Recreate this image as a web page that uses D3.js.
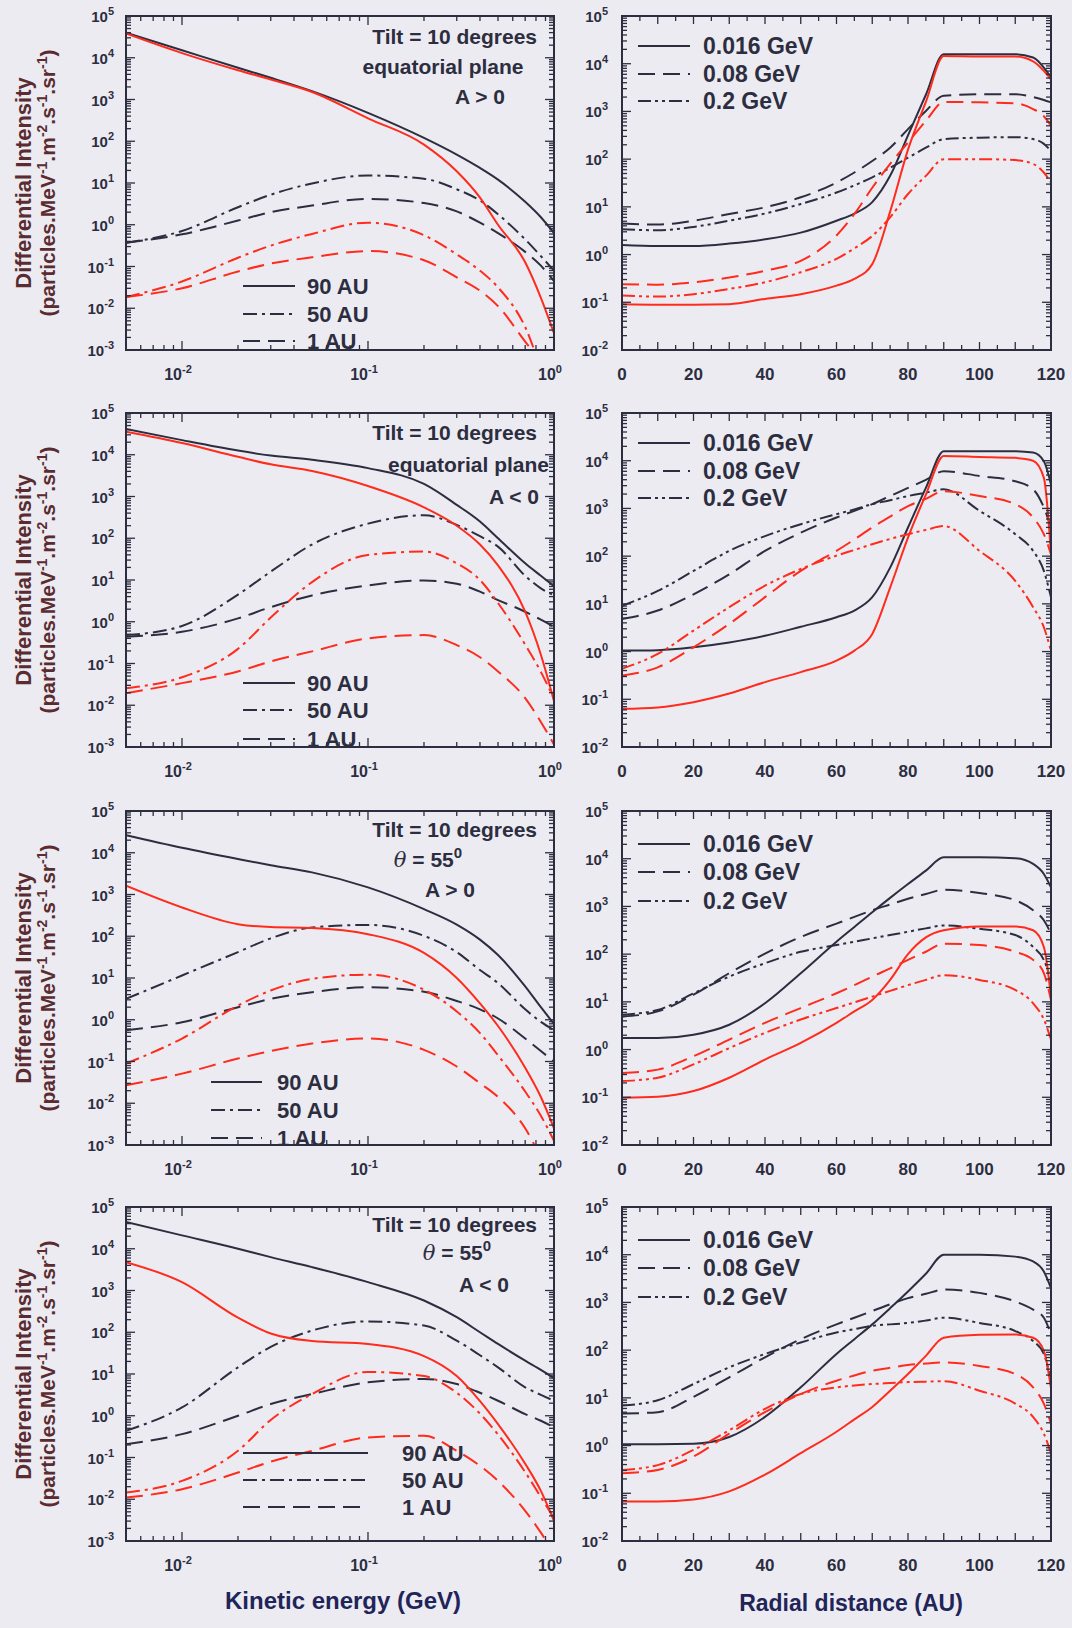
<!DOCTYPE html>
<html>
<head>
<meta charset="utf-8">
<script src="https://cdn.jsdelivr.net/npm/d3@7"></script>
<style>
  body { margin: 0; background: #ecebf2; }
  svg text { font-family: "Liberation Sans", Arial, sans-serif; font-weight: bold; }
</style>
</head>
<body>
<svg id="fig" width="1072" height="1628"></svg>
<script>
// grids the curves were read on
const energyGeV = [0.005, 0.01, 0.02, 0.03, 0.05, 0.1, 0.2, 0.3, 0.4, 0.5, 0.7, 0.85, 1.0];
const radiusAU = [0, 10, 20, 30, 40, 50, 60, 65, 70, 75, 80, 85, 90, 100, 110, 115, 118, 120];

// --- spectra, log10 of intensity (left column) ---
// row 1: equatorial plane, A > 0
const eqPosBlack90 = [4.6, 4.18, 3.76, 3.52, 3.2, 2.68, 2.08, 1.68, 1.36, 1.08, 0.55, 0.18, -0.2];
const eqPosBlack50 = [-0.43, -0.15, 0.42, 0.72, 0.99, 1.18, 1.1, 0.85, 0.58, 0.25, -0.35, -0.75, -1.1];
const eqPosBlack1 = [-0.43, -0.23, 0.10, 0.3, 0.46, 0.62, 0.52, 0.32, 0.05, -0.2, -0.65, -0.98, -1.35];
const eqPosRed90 = [4.58, 4.11, 3.70, 3.48, 3.18, 2.55, 1.92, 1.28, 0.65, 0.0, -0.9, -1.75, -2.6];
const eqPosRed50 = [-1.73, -1.36, -0.79, -0.5, -0.22, 0.05, -0.25, -0.71, -1.1, -1.5, -2.45, -3.4, -4.0];
const eqPosRed1 = [-1.73, -1.52, -1.12, -0.93, -0.78, -0.63, -0.85, -1.26, -1.58, -1.95, -2.8, -3.3, -3.8];
// row 2: equatorial plane, A < 0
const eqNegBlack90 = [4.62, 4.35, 4.1, 3.98, 3.88, 3.68, 3.3, 2.8, 2.4, 2.0, 1.4, 1.1, 0.85];
const eqNegBlack50 = [-0.32, -0.1, 0.65, 1.2, 1.85, 2.35, 2.55, 2.32, 2.05, 1.8, 1.1, 0.8, 0.63];
const eqNegBlack1 = [-0.36, -0.24, 0.08, 0.35, 0.63, 0.87, 0.99, 0.91, 0.72, 0.52, 0.24, 0.05, -0.12];
const eqNegRed90 = [4.55, 4.28, 3.95, 3.77, 3.61, 3.25, 2.74, 2.30, 1.85, 1.35, 0.24, -0.79, -1.9];
const eqNegRed50 = [-1.59, -1.33, -0.65, 0.1, 0.95, 1.6, 1.68, 1.4, 1.0, 0.45, -0.55, -1.2, -1.85];
const eqNegRed1 = [-1.71, -1.47, -1.19, -0.95, -0.71, -0.40, -0.32, -0.56, -0.85, -1.19, -1.83, -2.4, -2.94];
// row 3: theta = 55, A > 0
const latPosBlack90 = [4.42, 4.12, 3.85, 3.7, 3.53, 3.17, 2.65, 2.28, 1.92, 1.55, 0.8, 0.3, -0.1];
const latPosBlack50 = [0.5, 1.06, 1.62, 1.95, 2.21, 2.27, 2.01, 1.62, 1.19, 0.88, 0.25, -0.05, -0.25];
const latPosBlack1 = [-0.25, -0.06, 0.30, 0.5, 0.66, 0.78, 0.67, 0.45, 0.25, 0.03, -0.45, -0.75, -1.0];
const latPosRed90 = [3.21, 2.69, 2.29, 2.22, 2.2, 2.05, 1.6, 1.0, 0.39, -0.15, -1.15, -1.85, -2.6];
const latPosRed50 = [-1.05, -0.45, 0.34, 0.7, 0.98, 1.08, 0.72, 0.2, -0.32, -0.85, -1.72, -2.3, -2.9];
const latPosRed1 = [-1.57, -1.29, -0.93, -0.75, -0.57, -0.45, -0.72, -1.12, -1.52, -1.85, -2.6, -3.3, -3.9];
// row 4: theta = 55, A < 0
const latNegBlack90 = [4.64, 4.32, 4.0, 3.8, 3.56, 3.2, 2.76, 2.36, 2.0, 1.72, 1.32, 1.1, 0.9];
const latNegBlack50 = [-0.36, 0.2, 1.16, 1.65, 2.04, 2.26, 2.16, 1.8, 1.45, 1.16, 0.68, 0.5, 0.36];
const latNegBlack1 = [-0.68, -0.44, 0.0, 0.28, 0.52, 0.8, 0.88, 0.76, 0.55, 0.36, 0.04, -0.12, -0.28];
const latNegRed90 = [3.68, 3.2, 2.35, 1.97, 1.79, 1.72, 1.43, 0.95, 0.35, -0.2, -1.15, -1.8, -2.52];
const latNegRed50 = [-1.84, -1.56, -0.84, -0.1, 0.52, 1.05, 0.95, 0.55, 0.05, -0.45, -1.35, -1.95, -2.45];
const latNegRed1 = [-1.96, -1.76, -1.36, -1.1, -0.84, -0.52, -0.48, -0.84, -1.2, -1.56, -2.28, -2.8, -3.3];

// --- radial profiles, log10 of intensity (right column) ---
const eqPosBlack016 = [0.2, 0.18, 0.18, 0.23, 0.32, 0.46, 0.71, 0.86, 1.1, 1.65, 2.5, 3.35, 4.2, 4.2, 4.2, 4.13, 3.92, 3.71];
const eqPosBlack008 = [0.65, 0.63, 0.71, 0.85, 0.99, 1.2, 1.51, 1.72, 1.96, 2.24, 2.63, 3.01, 3.33, 3.36, 3.36, 3.3, 3.24, 3.19];
const eqPosBlack02 = [0.53, 0.51, 0.58, 0.71, 0.86, 1.06, 1.3, 1.45, 1.62, 1.82, 2.03, 2.24, 2.42, 2.45, 2.46, 2.42, 2.32, 2.17];
const eqPosRed016 = [-1.04, -1.05, -1.05, -1.04, -0.93, -0.83, -0.65, -0.51, -0.2, 0.9, 2.2, 3.2, 4.16, 4.15, 4.15, 4.05, 3.85, 3.67];
const eqPosRed008 = [-0.62, -0.63, -0.58, -0.48, -0.34, -0.13, 0.4, 0.85, 1.4, 1.9, 2.35, 2.8, 3.2, 3.19, 3.17, 3.05, 2.9, 2.70];
const eqPosRed02 = [-0.86, -0.88, -0.83, -0.72, -0.58, -0.37, -0.09, 0.13, 0.39, 0.78, 1.27, 1.65, 2.0, 2.0, 1.98, 1.9, 1.72, 1.51];

const eqNegBlack016 = [0.02, 0.03, 0.09, 0.19, 0.33, 0.52, 0.72, 0.86, 1.14, 1.76, 2.60, 3.43, 4.2, 4.2, 4.2, 4.17, 3.99, 3.5];
const eqNegBlack008 = [0.68, 0.86, 1.2, 1.62, 2.11, 2.49, 2.81, 2.95, 3.09, 3.26, 3.43, 3.6, 3.78, 3.68, 3.57, 3.4, 3.02, 2.6];
const eqNegBlack02 = [0.96, 1.27, 1.69, 2.11, 2.42, 2.67, 2.88, 2.98, 3.09, 3.17, 3.26, 3.33, 3.4, 2.95, 2.46, 2.11, 1.69, 1.14];
const eqNegRed016 = [-1.2, -1.17, -1.06, -0.88, -0.64, -0.43, -0.19, 0.02, 0.37, 1.34, 2.39, 3.29, 4.1, 4.08, 4.06, 4.0, 3.64, 2.04];
const eqNegRed008 = [-0.5, -0.33, 0.09, 0.58, 1.14, 1.69, 2.11, 2.35, 2.6, 2.83, 3.05, 3.2, 3.36, 3.26, 3.09, 2.81, 2.46, 2.04];
const eqNegRed02 = [-0.36, -0.05, 0.44, 0.93, 1.38, 1.73, 2.01, 2.13, 2.25, 2.36, 2.46, 2.55, 2.63, 2.11, 1.48, 0.93, 0.51, 0.02];

const latPosBlack016 = [0.24, 0.24, 0.31, 0.52, 0.97, 1.6, 2.26, 2.57, 2.88, 3.18, 3.47, 3.75, 4.03, 4.03, 4.01, 3.89, 3.68, 3.4];
const latPosBlack008 = [0.69, 0.8, 1.15, 1.6, 2.01, 2.36, 2.64, 2.78, 2.92, 3.04, 3.16, 3.26, 3.35, 3.28, 3.13, 2.92, 2.71, 2.43];
const latPosBlack02 = [0.73, 0.83, 1.18, 1.53, 1.81, 2.05, 2.19, 2.26, 2.33, 2.4, 2.47, 2.54, 2.6, 2.53, 2.4, 2.15, 1.88, 1.46];
const latPosRed016 = [-1.01, -0.99, -0.87, -0.59, -0.21, 0.14, 0.56, 0.8, 1.04, 1.46, 2.0, 2.35, 2.5, 2.58, 2.58, 2.5, 2.15, 1.1];
const latPosRed008 = [-0.49, -0.42, -0.14, 0.21, 0.56, 0.87, 1.18, 1.35, 1.53, 1.7, 1.88, 2.05, 2.22, 2.19, 2.05, 1.88, 1.6, 1.04];
const latPosRed02 = [-0.66, -0.59, -0.31, 0.03, 0.35, 0.63, 0.87, 0.99, 1.11, 1.23, 1.35, 1.46, 1.56, 1.46, 1.25, 0.97, 0.63, 0.21];

const latNegBlack016 = [0.03, 0.03, 0.04, 0.18, 0.6, 1.22, 1.92, 2.23, 2.54, 2.88, 3.23, 3.6, 4.0, 4.0, 3.96, 3.86, 3.65, 3.3];
const latNegBlack008 = [0.67, 0.7, 1.02, 1.43, 1.85, 2.23, 2.54, 2.68, 2.82, 2.96, 3.09, 3.18, 3.27, 3.2, 3.02, 2.85, 2.68, 2.33];
const latNegBlack02 = [0.84, 0.95, 1.29, 1.64, 1.92, 2.16, 2.37, 2.44, 2.51, 2.54, 2.57, 2.62, 2.68, 2.57, 2.4, 2.19, 1.92, 1.36];
const latNegRed016 = [-1.17, -1.17, -1.13, -0.96, -0.61, -0.16, 0.29, 0.55, 0.81, 1.15, 1.5, 1.88, 2.26, 2.32, 2.33, 2.26, 1.99, 1.2];
const latNegRed008 = [-0.58, -0.51, -0.23, 0.25, 0.7, 1.08, 1.36, 1.47, 1.57, 1.63, 1.69, 1.72, 1.74, 1.67, 1.5, 1.22, 0.88, 0.46];
const latNegRed02 = [-0.51, -0.41, -0.09, 0.32, 0.77, 1.08, 1.22, 1.26, 1.29, 1.31, 1.33, 1.34, 1.35, 1.15, 0.88, 0.6, 0.25, -0.16];

// labels
const spectrumLegend = ['90 AU', '50 AU', '1 AU'];
const profileLegend = ['0.016 GeV', '0.08 GeV', '0.2 GeV'];
const energyTickExp = [-2, -1, 0];
const radiusTicks = [0, 20, 40, 60, 80, 100, 120];

// ---------------------------------------------------------------
const ink = '#2c2e40';
const red = '#ff2b1c';
const dashes = { solid: null, dashDot: '14,5,3,5', longDash: '17,8', dashDotDot: '13,4,3,4,3,4' };

const svg = d3.select('#fig');
const rowTop = [16, 413, 811, 1207];
const panelH = 334;
const leftX = [126, 554];
const rightX = [622, 1051];

const rows = [
  {
    spectra: [eqPosBlack90, eqPosBlack50, eqPosBlack1, eqPosRed90, eqPosRed50, eqPosRed1],
    profiles: [eqPosBlack016, eqPosBlack008, eqPosBlack02, eqPosRed016, eqPosRed008, eqPosRed02],
    note: [['Tilt = 10 degrees', 'end', 537, 28], ['equatorial plane', 'middle', 443, 58], ['A > 0', 'middle', 480, 88]],
    legL: { x1: 243, x2: 295, tx: 307, ys: [270, 298, 325] },
    legR: [30, 58, 85]
  },
  {
    spectra: [eqNegBlack90, eqNegBlack50, eqNegBlack1, eqNegRed90, eqNegRed50, eqNegRed1],
    profiles: [eqNegBlack016, eqNegBlack008, eqNegBlack02, eqNegRed016, eqNegRed008, eqNegRed02],
    note: [['Tilt = 10 degrees', 'end', 537, 27], ['equatorial plane', 'end', 549, 59], ['A < 0', 'end', 539, 91]],
    legL: { x1: 243, x2: 295, tx: 307, ys: [270, 297, 326] },
    legR: [30, 58, 85]
  },
  {
    spectra: [latPosBlack90, latPosBlack50, latPosBlack1, latPosRed90, latPosRed50, latPosRed1],
    profiles: [latPosBlack016, latPosBlack008, latPosBlack02, latPosRed016, latPosRed008, latPosRed02],
    note: [['Tilt = 10 degrees', 'end', 537, 26], ['theta', 'middle', 428, 56], ['A > 0', 'middle', 450, 86]],
    legL: { x1: 211, x2: 262, tx: 277, ys: [271, 299, 327] },
    legR: [33, 61, 90]
  },
  {
    spectra: [latNegBlack90, latNegBlack50, latNegBlack1, latNegRed90, latNegRed50, latNegRed1],
    profiles: [latNegBlack016, latNegBlack008, latNegBlack02, latNegRed016, latNegRed008, latNegRed02],
    note: [['Tilt = 10 degrees', 'end', 537, 25], ['theta', 'middle', 457, 53], ['A < 0', 'middle', 484, 85]],
    legL: { x1: 243, x2: 368, tx: 402, ys: [246, 273, 300] },
    legR: [33, 61, 90]
  }
];

const spectrumStyles = [[ink, 'solid'], [ink, 'dashDot'], [ink, 'longDash'], [red, 'solid'], [red, 'dashDot'], [red, 'longDash']];
const profileStyles = [[ink, 'solid'], [ink, 'longDash'], [ink, 'dashDotDot'], [red, 'solid'], [red, 'longDash'], [red, 'dashDotDot']];

// power of ten label with superscript
function powLabel(sel, e) {
  sel.text('10');
  sel.append('tspan').attr('dy', -7).attr('font-size', 11).text(String(e));
}

function frameTicks(g, x, y, xTicks, yTicks) {
  const [x0, x1] = x.range();
  const [y0, y1] = y.range(); // y0 bottom, y1 top
  // y ticks both sides
  yTicks.forEach(t => {
    const yy = y(t.v);
    g.append('line').attr('x1', x0).attr('x2', x0 + t.len).attr('y1', yy).attr('y2', yy);
    g.append('line').attr('x1', x1).attr('x2', x1 - t.len).attr('y1', yy).attr('y2', yy);
  });
  xTicks.forEach(t => {
    const xx = x(t.v);
    g.append('line').attr('x1', xx).attr('x2', xx).attr('y1', y0).attr('y2', y0 - t.len);
    g.append('line').attr('x1', xx).attr('x2', xx).attr('y1', y1).attr('y2', y1 + t.len);
  });
  g.selectAll('line').attr('stroke', ink).attr('stroke-width', 1.3);
  g.append('rect').attr('x', x0).attr('y', y1).attr('width', x1 - x0).attr('height', y0 - y1)
    .attr('fill', 'none').attr('stroke', ink).attr('stroke-width', 2);
}

function logTicks(scale) {
  return scale.ticks().map(v => {
    const lg = Math.log10(v);
    return { v: v, len: Math.abs(lg - Math.round(lg)) < 1e-6 ? 9 : 5 };
  });
}

rows.forEach((row, i) => {
  const top = rowTop[i];
  const bottom = top + panelH;

  // ---------- left: spectra ----------
  const xL = d3.scaleLog().domain([0.005, 1]).range(leftX);
  const yL = d3.scaleLog().domain([1e-3, 1e5]).range([bottom, top]);
  const gL = svg.append('g');

  gL.append('clipPath').attr('id', 'clipL' + i).append('rect')
    .attr('x', leftX[0]).attr('y', top).attr('width', leftX[1] - leftX[0]).attr('height', panelH);

  const lineL = d3.line()
    .x(d => xL(d[0]))
    .y(d => yL(Math.pow(10, d[1])))
    .curve(d3.curveMonotoneX);

  row.spectra.forEach((vals, k) => {
    const pts = energyGeV.map((e, j) => [e, vals[j]]);
    gL.append('path').attr('clip-path', `url(#clipL${i})`)
      .attr('d', lineL(pts)).attr('fill', 'none')
      .attr('stroke', spectrumStyles[k][0]).attr('stroke-width', 2)
      .attr('stroke-dasharray', dashes[spectrumStyles[k][1]]);
  });

  frameTicks(gL.append('g'), xL, yL, logTicks(xL), logTicks(yL));

  d3.range(-3, 6).forEach(e => {
    gL.append('text').attr('x', leftX[0] - 12).attr('y', yL(Math.pow(10, e)) + 6)
      .attr('text-anchor', 'end').attr('font-size', 15).attr('fill', ink)
      .call(powLabel, e);
  });
  energyTickExp.forEach(e => {
    gL.append('text').attr('x', xL(Math.pow(10, e)) - 4).attr('y', bottom + 30)
      .attr('text-anchor', 'middle').attr('font-size', 16).attr('fill', ink)
      .call(powLabel, e);
  });

  // annotation
  row.note.forEach(n => {
    const t = gL.append('text').attr('x', n[2]).attr('y', top + n[3])
      .attr('text-anchor', n[1]).attr('font-size', 21).attr('fill', ink);
    if (n[0] === 'theta') {
      t.append('tspan').attr('font-style', 'italic').attr('font-family', 'DejaVu Serif').attr('font-weight', 'normal').text('θ');
      t.append('tspan').text(' = 55');
      t.append('tspan').attr('dy', -9).attr('font-size', 15).text('0');
    } else {
      t.text(n[0]);
    }
  });

  // legend
  spectrumLegend.forEach((lab, k) => {
    const yy = top + row.legL.ys[k];
    gL.append('line').attr('x1', row.legL.x1).attr('x2', row.legL.x2).attr('y1', yy).attr('y2', yy)
      .attr('stroke', ink).attr('stroke-width', 2).attr('stroke-dasharray', dashes[spectrumStyles[k][1]]);
    gL.append('text').attr('x', row.legL.tx).attr('y', yy + 8).attr('font-size', 22).attr('fill', ink).text(lab);
  });

  // y title
  const cy = top + panelH / 2;
  const yt = gL.append('g').attr('transform', `translate(31,${cy}) rotate(-90)`);
  yt.append('text').attr('text-anchor', 'middle').attr('font-size', 22).attr('fill', '#5a2c30').text('Differential Intensity');
  const yt2 = yt.append('text').attr('y', 24).attr('text-anchor', 'middle').attr('font-size', 21).attr('fill', '#5a2c30');
  let raised = false;
  [['(particles.MeV', '-1'], ['.m', '-2'], ['.s', '-1'], ['.sr', '-1'], [')', null]].forEach(p => {
    yt2.append('tspan').attr('dy', raised ? 8 : 0).text(p[0]);
    raised = false;
    if (p[1]) {
      yt2.append('tspan').attr('dy', -8).attr('font-size', 14).text(p[1]);
      raised = true;
    }
  });

  // ---------- right: radial profiles ----------
  const xR = d3.scaleLinear().domain([0, 120]).range(rightX);
  const yR = d3.scaleLog().domain([1e-2, 1e5]).range([bottom, top]);
  const gR = svg.append('g');

  gR.append('clipPath').attr('id', 'clipR' + i).append('rect')
    .attr('x', rightX[0]).attr('y', top).attr('width', rightX[1] - rightX[0]).attr('height', panelH);

  const lineR = d3.line()
    .x(d => xR(d[0]))
    .y(d => yR(Math.pow(10, d[1])))
    .curve(d3.curveMonotoneX);

  row.profiles.forEach((vals, k) => {
    const pts = radiusAU.map((r, j) => [r, vals[j]]);
    gR.append('path').attr('clip-path', `url(#clipR${i})`)
      .attr('d', lineR(pts)).attr('fill', 'none')
      .attr('stroke', profileStyles[k][0]).attr('stroke-width', 2)
      .attr('stroke-dasharray', dashes[profileStyles[k][1]]);
  });

  const xRticks = d3.range(0, 121, 5).map(v => ({ v: v, len: v % 10 === 0 ? 8 : 5 }));
  frameTicks(gR.append('g'), xR, yR, xRticks, logTicks(yR));

  d3.range(-2, 6).forEach(e => {
    gR.append('text').attr('x', rightX[0] - 14).attr('y', yR(Math.pow(10, e)) + 6)
      .attr('text-anchor', 'end').attr('font-size', 15).attr('fill', ink)
      .call(powLabel, e);
  });
  radiusTicks.forEach(v => {
    gR.append('text').attr('x', xR(v)).attr('y', bottom + 30)
      .attr('text-anchor', 'middle').attr('font-size', 17).attr('fill', ink).text(v);
  });

  profileLegend.forEach((lab, k) => {
    const yy = top + row.legR[k];
    gR.append('line').attr('x1', 638).attr('x2', 690).attr('y1', yy).attr('y2', yy)
      .attr('stroke', ink).attr('stroke-width', 2).attr('stroke-dasharray', dashes[profileStyles[k][1]]);
    gR.append('text').attr('x', 703).attr('y', yy + 8).attr('font-size', 23).attr('fill', ink).text(lab);
  });
});

// axis titles
svg.append('text').attr('x', 343).attr('y', 1609).attr('text-anchor', 'middle')
  .attr('font-size', 24).attr('fill', '#1f2558').text('Kinetic energy (GeV)');
svg.append('text').attr('x', 851).attr('y', 1611).attr('text-anchor', 'middle')
  .attr('font-size', 23).attr('fill', '#1f2558').text('Radial distance (AU)');
</script>
</body>
</html>
